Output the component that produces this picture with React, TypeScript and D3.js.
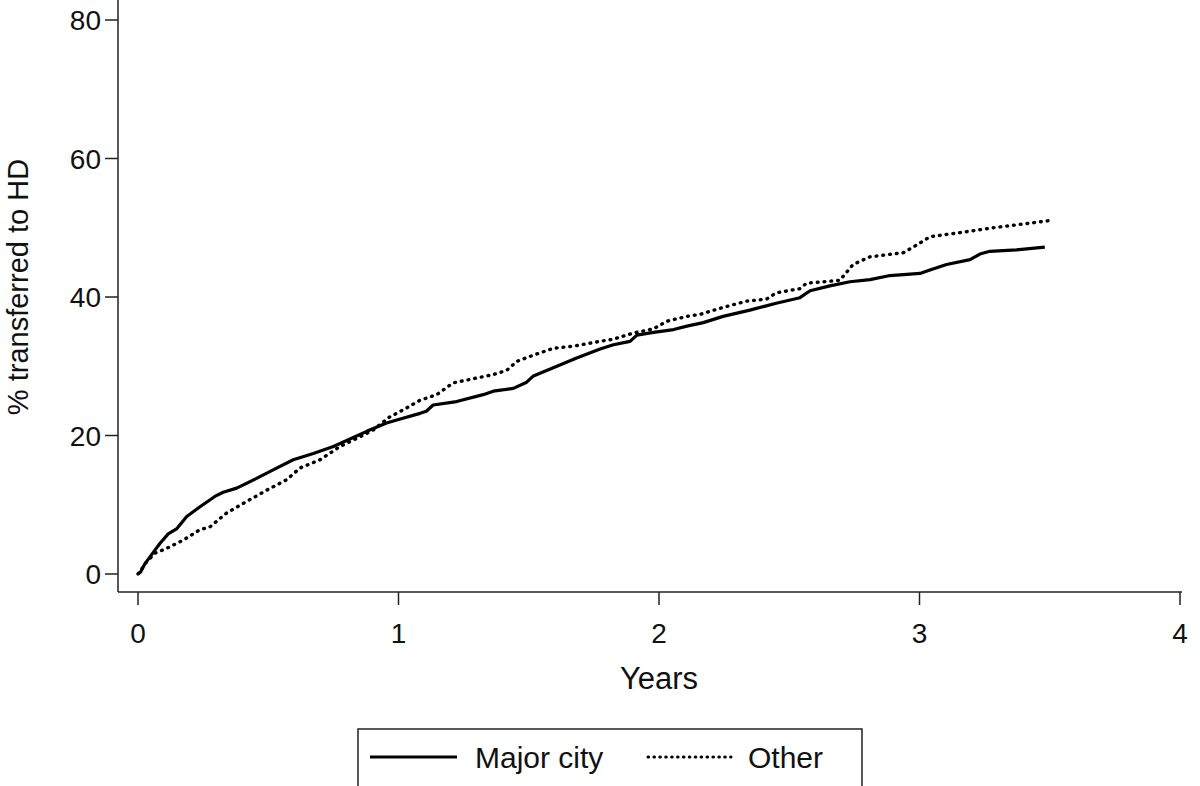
import React from "react";
import * as d3 from "d3";

const xTicks = [0, 1, 2, 3, 4];
const yTicks = [0, 20, 40, 60, 80];

const majorT = [0, 0.01, 0.027, 0.06, 0.084, 0.116, 0.148, 0.187, 0.238, 0.295, 0.327, 0.379, 0.455, 0.532, 0.596, 0.673, 0.75, 0.814, 0.878, 0.954, 1.0, 1.083, 1.107, 1.133, 1.223, 1.325, 1.364, 1.441, 1.492, 1.518, 1.608, 1.684, 1.774, 1.825, 1.889, 1.915, 1.979, 2.056, 2.107, 2.17, 2.246, 2.349, 2.45, 2.541, 2.58, 2.656, 2.733, 2.81, 2.887, 3.002, 3.04, 3.104, 3.194, 3.232, 3.27, 3.372, 3.481];
const majorV = [0, 0.3, 1.5, 3.2, 4.4, 5.8, 6.5, 8.3, 9.7, 11.2, 11.8, 12.4, 13.8, 15.3, 16.5, 17.4, 18.4, 19.5, 20.6, 21.8, 22.3, 23.2, 23.5, 24.4, 24.9, 25.9, 26.4, 26.8, 27.7, 28.6, 30.0, 31.2, 32.5, 33.1, 33.6, 34.5, 34.9, 35.3, 35.8, 36.3, 37.2, 38.1, 39.1, 39.9, 40.9, 41.6, 42.2, 42.5, 43.1, 43.4, 43.9, 44.7, 45.4, 46.2, 46.6, 46.8, 47.2];

const otherT = [0, 0.01, 0.03, 0.065, 0.11, 0.174, 0.238, 0.276, 0.34, 0.404, 0.494, 0.57, 0.622, 0.699, 0.775, 0.852, 0.903, 0.967, 1.018, 1.083, 1.147, 1.21, 1.287, 1.364, 1.415, 1.454, 1.518, 1.595, 1.672, 1.774, 1.825, 1.902, 1.979, 2.03, 2.107, 2.158, 2.246, 2.336, 2.413, 2.45, 2.541, 2.567, 2.694, 2.745, 2.81, 2.938, 2.989, 3.04, 3.117, 3.156, 3.284, 3.411, 3.493];
const otherV = [0, 0.5, 1.6, 3.0, 3.7, 4.9, 6.4, 6.8, 8.8, 10.2, 12.1, 13.6, 15.3, 16.5, 18.4, 19.8, 20.8, 22.7, 23.7, 25.1, 25.9, 27.6, 28.2, 28.8, 29.4, 30.7, 31.6, 32.6, 32.9, 33.6, 33.9, 34.8, 35.4, 36.5, 37.2, 37.5, 38.5, 39.4, 39.7, 40.6, 41.2, 42.0, 42.4, 44.7, 45.8, 46.4, 47.5, 48.7, 49.1, 49.3, 50.0, 50.6, 51.0];

const seriesNames = ["Major city", "Other"];

const FONT = "'Liberation Sans', Arial, Helvetica, sans-serif";

export default function App() {
  const W = 1200, H = 786;
  const x = d3.scaleLinear().domain([0, 4]).range([138, 1180]);
  const y = d3.scaleLinear().domain([0, 80]).range([574, 20]);
  const axisX = 118;
  const axisY = 592;

  const line = d3.line<[number, number]>().x(d => x(d[0])).y(d => y(d[1]));
  const majorPts: [number, number][] = majorT.map((t, i) => [t, majorV[i]]);
  const otherPts: [number, number][] = otherT.map((t, i) => [t, otherV[i]]);

  return (
    <div style={{ position: "absolute", left: 0, top: 0 }}>
      <svg width={W} height={H} style={{ display: "block", background: "#fff" }} fontFamily={FONT}>
        <rect x={0} y={0} width={W} height={H} fill="#fff" />
        {/* y axis */}
        <line x1={axisX} y1={0} x2={axisX} y2={axisY} stroke="#222" strokeWidth={1.5} />
        {yTicks.map(t => (
          <g key={"y" + t}>
            <line x1={axisX - 13} x2={axisX} y1={y(t)} y2={y(t)} stroke="#222" strokeWidth={1.5} />
            <text x={axisX - 17} y={y(t)} dy="0.36em" textAnchor="end" fontSize={28} fill="#111">{t}</text>
          </g>
        ))}
        {/* x axis */}
        <line x1={axisX} y1={axisY} x2={1182} y2={axisY} stroke="#222" strokeWidth={1.5} />
        {xTicks.map(t => (
          <g key={"x" + t}>
            <line x1={x(t)} x2={x(t)} y1={axisY} y2={axisY + 13} stroke="#222" strokeWidth={1.5} />
            <text x={x(t)} y={643} textAnchor="middle" fontSize={28} fill="#111">{t}</text>
          </g>
        ))}
        <text x={659} y={689} textAnchor="middle" fontSize={31} fill="#111">Years</text>
        <text transform="translate(28,287) rotate(-90)" textAnchor="middle" fontSize={29} fill="#111">% transferred to HD</text>

        {/* series */}
        <path d={line(otherPts) || ""} fill="none" stroke="#000" strokeWidth={3.4} strokeDasharray="0.8 6" strokeLinecap="round" />
        <path d={line(majorPts) || ""} fill="none" stroke="#000" strokeWidth={3.2} strokeLinejoin="round" />

        {/* legend */}
        <rect x={358} y={729} width={504} height={60} fill="#fff" stroke="#222" strokeWidth={1.5} />
        <line x1={370} x2={457} y1={757} y2={757} stroke="#000" strokeWidth={3.2} />
        <text x={475} y={768} fontSize={30} fill="#111">{seriesNames[0]}</text>
        <line x1={648} x2={731} y1={757} y2={757} stroke="#000" strokeWidth={3} strokeDasharray="0.6 5.3" strokeLinecap="round" />
        <text x={748} y={768} fontSize={30} fill="#111">{seriesNames[1]}</text>
      </svg>
    </div>
  );
}
